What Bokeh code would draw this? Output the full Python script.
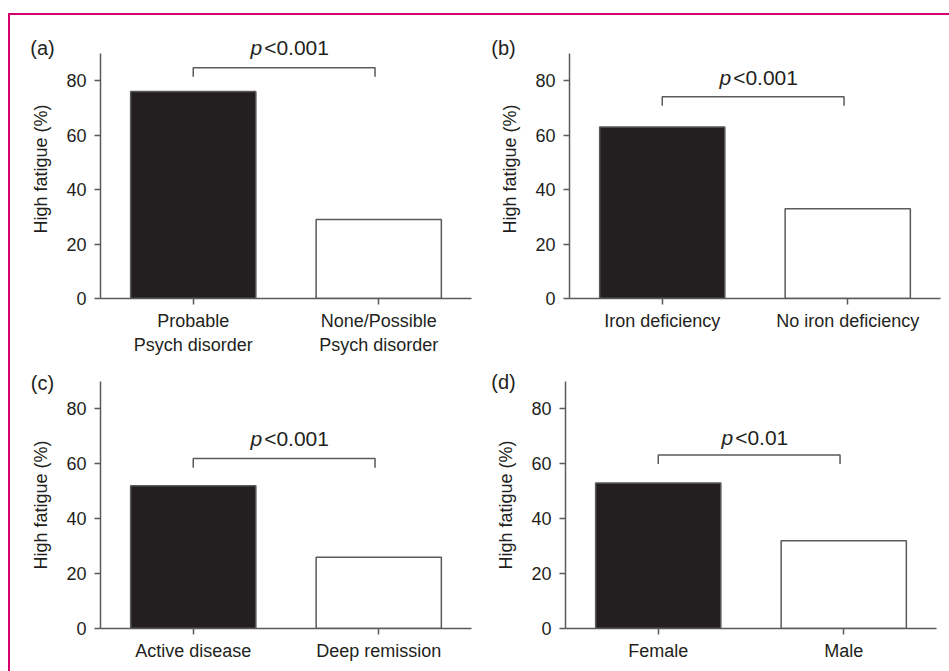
from bokeh.plotting import figure
from bokeh.layouts import column, row
from bokeh.models import ColumnDataSource, FactorRange, Range1d, FixedTicker, Label
from bokeh.embed import file_html
from bokeh.resources import INLINE

# ---- data ----
panel_labels = ["(a)", "(b)", "(c)", "(d)"]
cats_a = ["Probable\nPsych disorder", "None/Possible\nPsych disorder"]
vals_a = [76, 29]
cats_b = ["Iron deficiency", "No iron deficiency"]
vals_b = [63, 33]
cats_c = ["Active disease", "Deep remission"]
vals_c = [52, 26]
cats_d = ["Female", "Male"]
vals_d = [53, 32]
p_values = ["<0.001", "<0.001", "<0.001", "<0.01"]
y_ticks = [0, 20, 40, 60, 80]
y_label = "High fatigue (%)"

# ---- style ----
FONT = "Liberation Sans"
TXT = "#231f20"
AX = "#5a5a5a"
BAR_COLORS = ["#231f20", "#ffffff"]
AXIS_TOP = 90


def make_panel(i, cats, vals, width, height, y_end, mb_left, mb_right, mb_top, mb_bottom,
               bracket_y, text_y, lab_dx, lab_y, p_dx):
    p = figure(x_range=FactorRange(*cats, range_padding=0), y_range=Range1d(0, y_end),
               width=width, height=height, output_backend="svg", toolbar_location=None,
               min_border_left=mb_left, min_border_right=mb_right,
               min_border_top=mb_top, min_border_bottom=mb_bottom,
               background_fill_color="white", border_fill_color="white")
    p.outline_line_color = None
    p.grid.visible = False

    src = ColumnDataSource(dict(x=cats, top=vals, color=BAR_COLORS))
    p.vbar(x="x", top="top", width=0.675, source=src, fill_color="color",
           line_color=AX, line_width=1.5)

    # significance bracket between the two bar centres
    x0, x1 = 0.5, 1.48
    p.line(x=[x0, x0, x1, x1], y=[bracket_y - 3.3, bracket_y, bracket_y, bracket_y - 3.3],
           line_color=AX, line_width=1.5)
    xc = (x0 + x1) / 2
    p.add_layout(Label(x=xc, y=text_y, text="p", text_font=FONT, text_font_size="21px",
                       text_font_style="italic", text_color=TXT, text_align="right",
                       text_baseline="middle", x_offset=p_dx))
    p.add_layout(Label(x=xc, y=text_y, text=p_values[i], text_font=FONT, text_font_size="21px",
                       text_color=TXT, text_align="left", text_baseline="middle",
                       x_offset=p_dx + 2))
    # panel letter (side panel so it is not clipped to the frame)
    p.add_layout(Label(x=0, y=lab_y, text=panel_labels[i], text_font=FONT, text_font_size="20px",
                       text_color=TXT, text_align="center", text_baseline="middle",
                       x_offset=lab_dx), "above")

    for ax in (p.xaxis[0], p.yaxis[0]):
        ax.axis_line_color = AX
        ax.axis_line_width = 1.5
        ax.major_tick_line_color = AX
        ax.major_tick_line_width = 1.5
        ax.major_tick_out = 6
        ax.major_tick_in = 0
        ax.minor_tick_line_color = None
        ax.major_label_text_font = FONT
        ax.major_label_text_font_size = "18px"
        ax.major_label_text_color = TXT
    p.xaxis.major_label_standoff = 6
    p.yaxis.major_label_standoff = 8
    p.yaxis.bounds = (0, AXIS_TOP)
    p.yaxis.ticker = FixedTicker(ticks=y_ticks)
    p.yaxis.axis_label = y_label
    p.yaxis.axis_label_text_font = FONT
    p.yaxis.axis_label_text_font_size = "18px"
    p.yaxis.axis_label_text_font_style = "normal"
    p.yaxis.axis_label_text_color = TXT
    p.yaxis.axis_label_standoff = 12
    return p


pa = make_panel(0, cats_a, vals_a, 469, 342, 95.1, 90, 8, 24, 57, 84.7, 92.1, -58, 92.0, -22)
pb = make_panel(1, cats_b, vals_b, 470, 342, 95.1, 90, 9, 24, 57, 74.1, 81.3, -66, 92.0, -22)
pc = make_panel(2, cats_c, vals_c, 465, 314, 90, 90, 4, 24, 43, 61.9, 69.4, -58, 89.6, -22)
pd = make_panel(3, cats_d, vals_d, 474, 314, 90, 90, 13, 24, 43, 63.2, 69.5, -62, 89.7, -16)

layout = column(row(pa, pb), row(pc, pd),
                styles={"border-top": "2px solid #d5006d", "border-left": "2px solid #d5006d",
                        "margin-top": "13px", "margin-left": "8px"})

open("out.html", "w").write(file_html(layout, INLINE))
